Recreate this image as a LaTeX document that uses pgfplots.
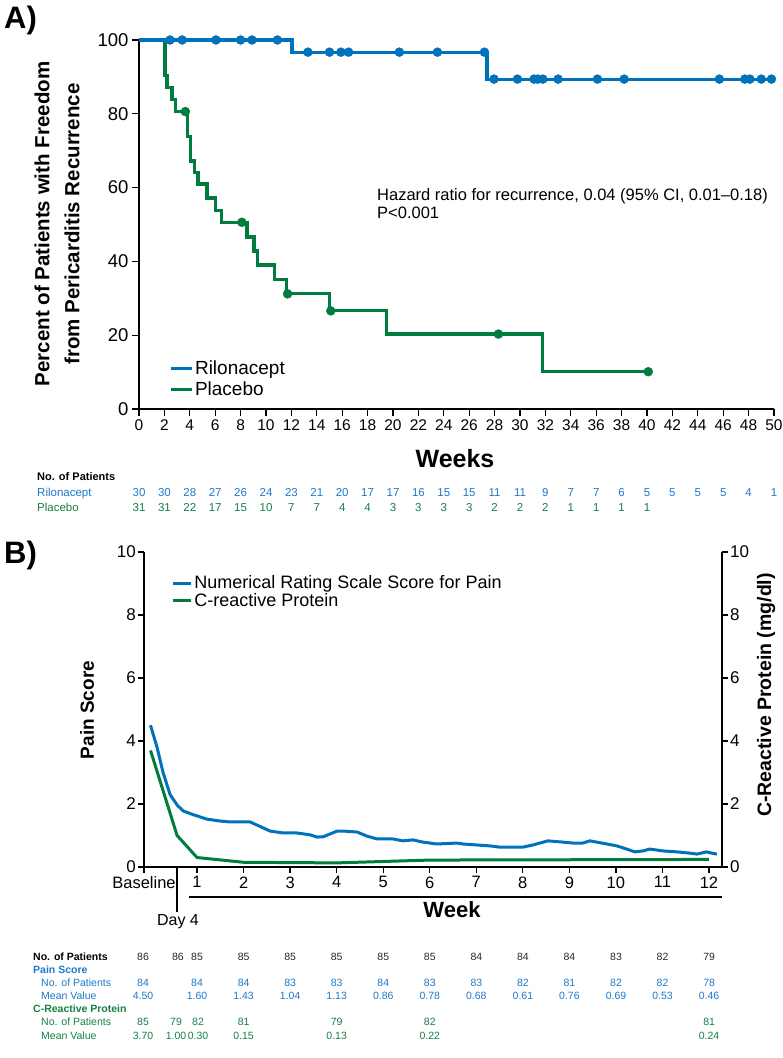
\documentclass[border=0pt]{standalone}
\usepackage{fontspec}
\setmainfont{Liberation Sans}
\usepackage{pgfplots}
\pgfplotsset{compat=1.18}
\definecolor{rblue}{RGB}{0,114,187}
\definecolor{pgreen}{RGB}{0,125,62}
\definecolor{tblue}{RGB}{30,120,200}
\definecolor{tgreen}{RGB}{20,128,68}
\definecolor{tgray}{RGB}{40,40,40}
\newcommand{\fs}[1]{\fontsize{#1}{#1}\selectfont}
\begin{document}
\begin{tikzpicture}[x=1pt,y=1pt]
\useasboundingbox (0,0) rectangle (783,1058);

% ---------------- Panel A ----------------
\node[anchor=west,font=\fs{31}\bfseries,inner sep=0pt] at (4,1038) {A)};

\begin{axis}[
  at={(139pt,649pt)}, anchor=south west,
  scale only axis, width=635pt, height=369pt,
  xmin=0, xmax=50, ymin=0, ymax=100,
  axis x line*=bottom, axis y line*=left,
  axis line style={line width=1.3pt,-},
  xtick={0,2,...,50}, ytick={0,20,...,100},
  tick align=outside, major tick length=7pt,
  tick style={line width=1.3pt, black},
  /pgf/number format/assume math mode=true,
  xticklabel style={font=\fs{15.5}},
  yticklabel style={font=\fs{18.5}},
  clip=false,
  legend cell align=left,
  legend style={at={(axis description cs:0.047,0.137)}, anchor=north west,
    draw=none, fill=none, inner sep=0pt, font=\fs{19}, row sep=1.5pt,
    nodes={inner sep=2pt}},
  legend image code/.code={\draw[#1, line width=3pt] (0pt,0pt) -- (21pt,0pt);},
]
% Placebo KM
\addplot[pgreen, line width=3.2pt, const plot, forget plot] coordinates {
 (0,100) (2.05,90.3) (2.2,87.1) (2.6,83.9) (2.9,80.6) (3.8,73.9) (4.05,67.2)
 (4.35,64.0) (4.65,61.0) (5.35,57.2) (6.0,53.7) (6.5,50.6) (8.5,46.6)
 (9.05,42.8) (9.3,39.0) (10.7,35.2) (11.6,31.2) (15.0,26.6) (19.5,20.3)
 (31.8,10.1) (40.1,10.1)};
\addplot[only marks, mark=*, mark size=4.5pt, pgreen, forget plot] coordinates {
 (3.65,80.6) (8.1,50.6) (11.7,31.2) (15.1,26.6) (28.3,20.3) (40.1,10.1)};
% Rilonacept KM
\addplot[rblue, line width=3.2pt, const plot] coordinates {
 (0,100) (12.05,96.7) (27.4,89.4) (49.8,89.4)};
\addlegendentry{Rilonacept}
\addplot[only marks, mark=*, mark size=4.5pt, rblue, forget plot] coordinates {
 (2.44,100) (3.4,100) (6.06,100) (8.0,100) (8.9,100) (10.9,100)
 (13.3,96.7) (15.0,96.7) (15.9,96.7) (16.5,96.7) (20.5,96.7) (23.5,96.7) (27.2,96.7)
 (27.95,89.4) (29.8,89.4) (31.1,89.4) (31.4,89.4) (31.8,89.4) (33.0,89.4)
 (36.1,89.4) (38.2,89.4) (45.7,89.4) (47.7,89.4) (48.1,89.4) (49.0,89.4) (49.8,89.4)};
\addlegendimage{pgreen, line width=3pt}
\addlegendentry{Placebo}
\end{axis}

\node[anchor=north west, align=left, inner sep=0pt, font=\fontsize{16.5}{18}\selectfont] at (377,870)
 {Hazard ratio for recurrence, 0.04 (95\% CI, 0.01--0.18)\\P<0.001};
\node[rotate=90, align=center, font=\fontsize{20.5}{30}\selectfont\bfseries] at (57,834)
 {Percent of Patients with Freedom\\from Pericarditis Recurrence};
\node[font=\fs{25}\bfseries] at (455,599) {Weeks};

% number at risk, panel A
\node[anchor=west, font=\fs{11}\bfseries, inner sep=0pt] at (37,581) {No. of Patients};
\node[anchor=base west, font=\fs{11.5}, tblue, inner sep=0pt] at (37,561) {Rilonacept};
\node[anchor=base west, font=\fs{11.5}, tgreen, inner sep=0pt] at (37,546) {Placebo};
\foreach \n [count=\i from 0] in {30,30,28,27,26,24,23,21,20,17,17,16,15,15,11,11,9,7,7,6,5,5,5,5,4,1}
  \node[anchor=base, inner sep=0pt, font=\fs{11.5}, tblue] at ({139+25.4*\i},561) {\n};
\foreach \n [count=\i from 0] in {31,31,22,17,15,10,7,7,4,4,3,3,3,3,2,2,2,1,1,1,1}
  \node[anchor=base, inner sep=0pt, font=\fs{11.5}, tgreen] at ({139+25.4*\i},546) {\n};

% ---------------- Panel B ----------------
\node[anchor=west,font=\fs{31}\bfseries,inner sep=0pt] at (4,503) {B)};

\begin{axis}[
  at={(144pt,191pt)}, anchor=south west,
  scale only axis, width=578pt, height=315pt,
  xmin=-0.14, xmax=12.28, ymin=0, ymax=10,
  axis x line*=bottom, axis y line*=left,
  axis line style={line width=1.3pt,-},
  xtick={-0.14,1,2,3,4,5,6,7,8,9,10,11,12},
  xticklabels={Baseline,1,2,3,4,5,6,7,8,9,10,11,12},
  ytick={0,2,...,10},
  tick align=outside, major tick length=6pt,
  tick style={line width=1.3pt, black},
  /pgf/number format/assume math mode=true,
  xticklabel style={font=\fs{16.5}},
  yticklabel style={font=\fs{17}, inner sep=2pt},
  clip=false,
  legend cell align=left,
  legend style={at={(axis description cs:0.048,0.93)}, anchor=north west,
    draw=none, fill=none, inner sep=0pt, font=\fs{18}, row sep=0pt,
    nodes={inner sep=1.5pt}},
  legend image code/.code={\draw[#1, line width=3pt] (0pt,0pt) -- (18pt,0pt);},
]
\addplot[rblue, line width=3pt, line join=round] coordinates {
 (0,4.50) (0.14,3.80) (0.27,3.00) (0.42,2.30) (0.57,1.97) (0.70,1.78) (0.92,1.66)
 (1.21,1.52) (1.49,1.46) (1.71,1.43) (2.14,1.43) (2.29,1.33) (2.57,1.14) (2.85,1.08)
 (3.15,1.08) (3.43,1.02) (3.58,0.95) (3.71,0.96) (4.01,1.14) (4.14,1.14) (4.44,1.11)
 (4.65,0.98) (4.87,0.89) (5.21,0.89) (5.42,0.83) (5.64,0.86) (5.85,0.79) (6.01,0.76)
 (6.15,0.73) (6.58,0.76) (6.71,0.73) (7.29,0.67) (7.51,0.63) (7.72,0.63) (8.00,0.63)
 (8.22,0.70) (8.54,0.83) (8.86,0.79) (9.08,0.76) (9.29,0.76) (9.44,0.83) (9.59,0.79)
 (9.81,0.73) (10.02,0.67) (10.23,0.57) (10.41,0.48) (10.58,0.51) (10.73,0.57)
 (11.01,0.51) (11.31,0.48) (11.59,0.44) (11.74,0.41) (11.95,0.48) (12.06,0.44) (12.17,0.41)};
\addlegendentry{Numerical Rating Scale Score for Pain}
\addlegendimage{pgreen, line width=3pt}
\addlegendentry{C-reactive Protein}
\draw[line width=1.3pt] (axis cs:0.571,0) -- ++(0pt,-45pt);
\draw[line width=1.3pt] ([yshift=-30pt]axis cs:0.83,0) -- ([yshift=-30pt]axis cs:12.27,0);
\end{axis}

\begin{axis}[
  at={(144pt,191pt)}, anchor=south west,
  scale only axis, width=578pt, height=315pt,
  xmin=-0.14, xmax=12.28, ymin=0, ymax=10,
  axis x line=none, axis y line*=right,
  axis line style={line width=1.3pt,-},
  ytick={0,2,...,10},
  tick align=outside, major tick length=6pt,
  tick style={line width=1.3pt, black},
  /pgf/number format/assume math mode=true,
  yticklabel style={font=\fs{17}, inner sep=2pt},
  clip=false,
]
\addplot[pgreen, line width=3pt, line join=round] coordinates {
 (0,3.70) (0.571,1.00) (1,0.30) (2,0.15) (4,0.13) (6,0.22) (12,0.24)};
\end{axis}

\node[font=\fs{16}] at (178,136) {Day 4};
\node[font=\fs{22}\bfseries] at (452,148) {Week};
\node[rotate=90, font=\fs{19}\bfseries] at (87,348) {Pain Score};
\node[rotate=90, font=\fs{19.5}\bfseries] at (766,363) {C-Reactive Protein (mg/dl)};

% table panel B
\node[anchor=base west, font=\fs{10.5}\bfseries, inner sep=0pt] at (33,97) {No. of Patients};
\node[anchor=base west, font=\fs{10.5}\bfseries, tblue, inner sep=0pt] at (33,84) {Pain Score};
\node[anchor=base west, font=\fs{10.5}, tblue, inner sep=0pt] at (41,71) {No. of Patients};
\node[anchor=base west, font=\fs{10.5}, tblue, inner sep=0pt] at (41,58) {Mean Value};
\node[anchor=base west, font=\fs{10.5}\bfseries, tgreen, inner sep=0pt] at (33,45) {C-Reactive Protein};
\node[anchor=base west, font=\fs{10.5}, tgreen, inner sep=0pt] at (41,32) {No. of Patients};
\node[anchor=base west, font=\fs{10.5}, tgreen, inner sep=0pt] at (41,19) {Mean Value};

\node[anchor=base, inner sep=0pt, font=\fs{10.5}, tgray] at (143,97) {86};
\node[anchor=base, inner sep=0pt, font=\fs{10.5}, tgray] at (178,97) {86};
\foreach \v [count=\i] in {85,85,85,85,85,85,84,84,84,83,82,79}
  \node[anchor=base, inner sep=0pt, font=\fs{10.5}, tgray] at ({150.5+46.55*\i},97) {\v};
\node[anchor=base, inner sep=0pt, font=\fs{10.5}, tblue] at (143,71) {84};
\foreach \v [count=\i] in {84,84,83,83,84,83,83,82,81,82,82,78}
  \node[anchor=base, inner sep=0pt, font=\fs{10.5}, tblue] at ({150.5+46.55*\i},71) {\v};
\node[anchor=base, inner sep=0pt, font=\fs{10.5}, tblue] at (143,58) {4.50};
\foreach \v [count=\i] in {1.60,1.43,1.04,1.13,0.86,0.78,0.68,0.61,0.76,0.69,0.53,0.46}
  \node[anchor=base, inner sep=0pt, font=\fs{10.5}, tblue] at ({150.5+46.55*\i},58) {\v};
\foreach \x/\n/\m in {143/85/3.70, 176/79/1.00, 198/82/0.30, 243.6/81/0.15, 336.7/79/0.13, 429.8/82/0.22, 709.1/81/0.24} {
  \node[anchor=base, inner sep=0pt, font=\fs{10.5}, tgreen] at (\x,32) {\n};
  \node[anchor=base, inner sep=0pt, font=\fs{10.5}, tgreen] at (\x,19) {\m};
}
\end{tikzpicture}
\end{document}
